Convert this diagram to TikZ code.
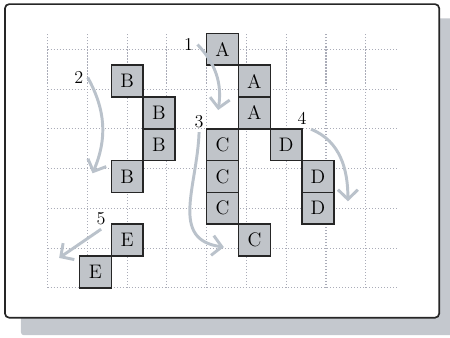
\documentclass[tikz,border=0pt]{standalone}
\usetikzlibrary{arrows.meta}
\definecolor{shadowgray}{RGB}{196,200,206}
\definecolor{cellgray}{RGB}{192,196,201}
\definecolor{arrowgray}{RGB}{186,194,203}
\definecolor{dotgray}{RGB}{170,172,184}
\tikzset{
    cell/.style={draw=black!85, line width=1.1pt, fill=cellgray, minimum size=0.8cm, inner sep=0pt, font=\fontsize{14}{16}\selectfont},
    movenum/.style={inner sep=3pt, font=\fontsize{13}{15}\selectfont},
    move/.style={arrowgray, line width=2.1pt, -{Straight Barb[length=2.4mm,width=5mm]}},
}
\begin{document}
\begin{tikzpicture}[x=0.8cm,y=0.8cm]
    \useasboundingbox (-1.5,-1.55) rectangle (12.65,9.05);
    % shadow and frame
    \fill[shadowgray, rounded corners=2pt] (-0.84,-1.49) rectangle (12.9,8.47);
    \draw[black!85, line width=1.2pt, fill=white, rounded corners=3pt] (-1.343,-0.94) rectangle (12.31,8.92);
    \draw[dotgray, line width=0.75pt, dash pattern=on 0.75pt off 1.4pt] (0,0) grid (11,8);
    % pieces
    \node[cell] (a1) at (5.5,7.5) {A};
    \node[cell] (a2) at (6.5,6.5) {A};
    \node[cell] (a3) at (6.5,5.5) {A};
    \node[cell] (b1) at (2.5,6.5) {B};
    \node[cell] (b2) at (3.5,5.5) {B};
    \node[cell] (b3) at (3.5,4.5) {B};
    \node[cell] (b4) at (2.5,3.5) {B};
    \node[cell] (c1) at (5.5,4.5) {C};
    \node[cell] (c2) at (5.5,3.5) {C};
    \node[cell] (c3) at (5.5,2.5) {C};
    \node[cell] (c4) at (6.5,1.5) {C};
    \node[cell] (d1) at (7.5,4.5) {D};
    \node[cell] (d2) at (8.5,3.5) {D};
    \node[cell] (d3) at (8.5,2.5) {D};
    \node[cell] (e1) at (2.5,1.5) {E};
    \node[cell] (e2) at (1.5,0.5) {E};
    % moves
    \node[movenum] (n1) at (4.43,7.65) {1};
    \node[movenum] (n2) at (0.98,6.61) {2};
    \node[movenum] (n3) at (4.76,5.23) {3};
    \node[movenum] (n4) at (8.00,5.32) {4};
    \node[movenum] (n5) at (1.68,2.18) {5};
    \coordinate (t1) at (5.36,5.59);
    \coordinate (t2) at (1.41,3.60);
    \coordinate (t3) at (5.54,1.28);
    \coordinate (t4) at (9.44,2.72);
    \coordinate (t5) at (0.36,0.94);
    \draw[move] (n1.east) to[bend left=26] (t1);
    \draw[move] (n2.east) to[bend left=26] (t2);
    \draw[move] (n3.south) to[out=-92,in=172,looseness=1.2] (t3);
    \draw[move] (n4.south east) to[out=-22,in=90] (t4);
    \draw[move] (n5.south) -- (t5);
\end{tikzpicture}
\end{document}
